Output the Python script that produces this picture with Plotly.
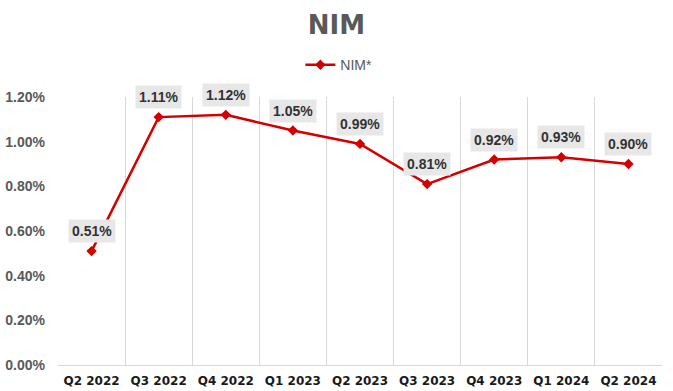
import plotly.graph_objects as go

categories = ["Q2 2022", "Q3 2022", "Q4 2022", "Q1 2023", "Q2 2023",
              "Q3 2023", "Q4 2023", "Q1 2024", "Q2 2024"]
nim_values = [0.51, 1.11, 1.12, 1.05, 0.99, 0.81, 0.92, 0.93, 0.90]
label_texts = ["0.51%", "1.11%", "1.12%", "1.05%", "0.99%", "0.81%", "0.92%", "0.93%", "0.90%"]
y_ticks = [0.0, 0.2, 0.4, 0.6, 0.8, 1.0, 1.2]
y_tick_labels = ["0.00%", "0.20%", "0.40%", "0.60%", "0.80%", "1.00%", "1.20%"]

RED = "#D40000"

fig = go.Figure()
fig.add_trace(go.Scatter(
    x=categories, y=nim_values, mode="lines+markers", name="NIM*",
    line=dict(color=RED, width=2.5),
    marker=dict(symbol="diamond", size=8, color=RED),
))

for c, v, t in zip(categories, nim_values, label_texts):
    fig.add_annotation(
        x=c, y=v, text=t, showarrow=False, yshift=20,
        bgcolor="#E7E7E7", borderpad=3,
        font=dict(family="Liberation Sans", size=14, color="#333333", weight="bold"),
    )

fig.update_layout(
    width=673, height=391,
    margin=dict(l=58, r=11, t=97, b=26, autoexpand=False),
    paper_bgcolor="white", plot_bgcolor="white",
    title=dict(text="<b>NIM</b>", x=0.5, xanchor="center", y=1 - 25 / 391, yanchor="middle",
               font=dict(family="DejaVu Sans", size=26, color="#595959")),
    legend=dict(orientation="h", x=0.465, xanchor="center", y=1.119, yanchor="middle",
                font=dict(family="Liberation Sans Narrow, Liberation Sans", size=14, color="#595959"),
                itemwidth=30),
    showlegend=True,
    xaxis=dict(
        type="category", tickson="boundaries", showgrid=True, gridcolor="#D9D9D9", gridwidth=1,
        showline=True, linecolor="#D9D9D9", linewidth=1, ticks="", tickangle=0,
        ticklabelstandoff=5,
        tickfont=dict(family="DejaVu Sans", size=12, color="#1A1A1A", weight="bold"),
        range=[-0.5, 8.5],
    ),
    yaxis=dict(
        range=[0, 1.2], tickvals=y_ticks, ticktext=y_tick_labels, showgrid=False,
        zeroline=False, showline=False, ticks="", ticklabelstandoff=12,
        tickfont=dict(family="Liberation Sans", size=14, color="#595959", weight="bold"),
    ),
)

fig.write_html("out.html", config={"displayModeBar": False},
               post_script="document.body.style.margin='0';document.body.style.padding='0';")
